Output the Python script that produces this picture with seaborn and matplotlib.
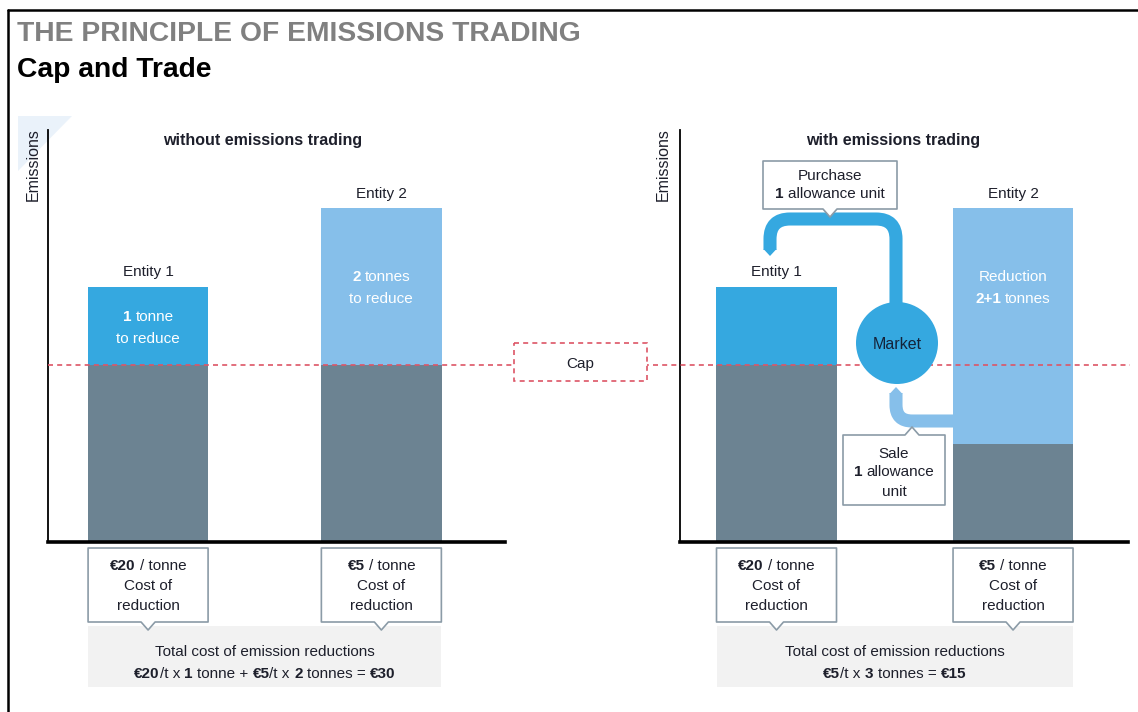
import matplotlib
matplotlib.use('Agg')
import matplotlib.pyplot as plt
import matplotlib.transforms as mtransforms
from matplotlib.path import Path
from matplotlib.patches import PathPatch, Polygon, Rectangle, Circle
import numpy as np
import pandas as pd
import seaborn as sns

# data (tonnes of emissions)
entities = ['Entity 1', 'Entity 2']
cap = 2.25
emissions = [3.25, 4.25]
kept_without_trading = [2.25, 2.25]
kept_with_trading = [2.25, 1.25]
cost_labels = ['**€20** / tonne', '**€5** / tonne']
bar_text_without = [['**1** tonne', 'to reduce'], ['**2** tonnes', 'to reduce']]
total_without = ['Total cost of emission reductions',
                 '**€20**/t x **1** tonne + **€5**/t x **2** tonnes = **€30**']
total_with = ['Total cost of emission reductions',
              '**€5**/t x **3** tonnes = **€15**']

GREY = '#6c8392'
BLUE = '#35a8e0'
LIGHT = '#86bfea'
RED = '#dd5566'
EDGE = '#8b9ba7'
TXT = '#1d1f2b'
FONT = ['Liberation Sans', 'DejaVu Sans']
FS = 11

W, H = 1138, 712
sns.set_style('white')
fig = plt.figure(figsize=(W / 100, H / 100), dpi=100)


def px_axes(x0, y0, x1, y1, z):
    return fig.add_axes([x0 / W, 1 - y1 / H, (x1 - x0) / W, (y1 - y0) / H], zorder=z)


bg = px_axes(0, 0, W, H, 0)
bg.set_xlim(0, W)
bg.set_ylim(H, 0)
bg.axis('off')

ax_l = px_axes(48, 130, 505, 542, 1)
ax_r = px_axes(680, 130, 1128, 542, 1)

df = pd.DataFrame({'entity': entities, 'total': emissions,
                   'without': kept_without_trading, 'with': kept_with_trading})

for ax, base, width, xl in [(ax_l, 'without', 0.517, (-0.429, 1.53)),
                            (ax_r, 'with', 0.51, (-0.408, 1.486))]:
    sns.barplot(data=df, x='entity', y='total', hue='entity', palette=[BLUE, LIGHT],
                width=width, saturation=1, linewidth=0, errorbar=None, legend=False, ax=ax)
    sns.barplot(data=df, x='entity', y=base, color=GREY, width=width, saturation=1,
                linewidth=0, errorbar=None, ax=ax)
    ax.set_xlim(*xl)
    ax.set_ylim(0, 5.25)
    ax.set_xticks([])
    ax.set_yticks([])
    ax.set_xlabel('')
    ax.set_ylabel('')
    ax.patch.set_visible(False)
    for s in ['top', 'right']:
        ax.spines[s].set_visible(False)
    ax.spines['left'].set_linewidth(1.3)
    ax.spines['left'].set_color('black')
    ax.spines['bottom'].set_linewidth(2.6)
    ax.spines['bottom'].set_color('black')

ov = px_axes(0, 0, W, H, 5)
ov.set_xlim(0, W)
ov.set_ylim(H, 0)
ov.axis('off')
ov.patch.set_visible(False)

renderer = fig.canvas.get_renderer()


def to_px(ax, x, y):
    dx, dy = ax.transData.transform((x, y))
    return dx, H - dy


def text_w(s, size, bold):
    t = ov.text(0, 0, s, fontsize=size, family=FONT, fontweight='bold' if bold else 'normal')
    w = t.get_window_extent(renderer).width
    t.remove()
    return w


def rich(x, y, s, size=FS, color=TXT, z=8):
    items = []
    gap = False
    for i, seg in enumerate(s.split('**')):
        if seg == '':
            continue
        items.append((seg.strip(), i % 2 == 1, gap or seg[0] == ' '))
        gap = seg[-1] == ' '
    space = text_w('a a', size, False) - text_w('aa', size, False)
    objs, total = [], 0
    for k, (txt, bold, g) in enumerate(items):
        o = ov.text(0, y, txt, fontsize=size, family=FONT, color=color,
                    fontweight='bold' if bold else 'normal', ha='left',
                    va='center_baseline', zorder=z)
        w = o.get_window_extent(renderer).width
        off = space if (g and k > 0) else 0
        objs.append((o, off, w))
        total += off + w
    cur = x - total / 2
    for o, off, w in objs:
        cur += off
        o.set_x(cur)
        cur += w


def callout(x0, y0, x1, y1, tip_x, side='bottom', tw=7, th=8):
    if side == 'bottom':
        pts = [(x0, y0), (x1, y0), (x1, y1), (tip_x + tw, y1), (tip_x, y1 + th),
               (tip_x - tw, y1), (x0, y1)]
    else:
        pts = [(x0, y0), (tip_x - tw, y0), (tip_x, y0 - th), (tip_x + tw, y0),
               (x1, y0), (x1, y1), (x0, y1)]
    ov.add_patch(Polygon(pts, closed=True, fc='white', ec=EDGE, lw=1.2,
                         joinstyle='round', zorder=6))


def pipe(points, r, color, lw=9.4):
    verts, codes = [points[0]], [Path.MOVETO]
    for k in range(1, len(points) - 1):
        p0, p1, p2 = map(np.array, points[k - 1:k + 2])
        a = p1 + (p0 - p1) / np.linalg.norm(p0 - p1) * r
        b = p1 + (p2 - p1) / np.linalg.norm(p2 - p1) * r
        verts += [tuple(a), tuple(p1), tuple(b)]
        codes += [Path.LINETO, Path.CURVE3, Path.CURVE3]
    verts.append(points[-1])
    codes.append(Path.LINETO)
    ov.add_patch(PathPatch(Path(verts, codes), fc='none', ec=color, lw=lw,
                           capstyle='butt', joinstyle='round', zorder=3))


# frame and titles
ov.plot([8, 8], [H, 10], color='black', lw=1.8, zorder=9)
ov.plot([8, W], [10, 10], color='black', lw=1.8, zorder=9)
bg.add_patch(Polygon([(18, 116), (72, 116), (18, 171)], fc='#eaf2fa', ec='none'))
ov.text(17, 34, 'THE PRINCIPLE OF EMISSIONS TRADING', fontsize=20.3, fontweight='bold',
        family='Liberation Sans', color='#808080', va='center')
ov.text(17, 70, 'Cap and Trade', fontsize=20.3, fontweight='bold',
        family='Liberation Sans', color='black', va='center')

ov.text(263, 140, 'without emissions trading', fontsize=FS + 0.5, fontweight='bold',
        family=FONT, color=TXT, ha='center', va='center')
ov.text(893, 140, 'with emissions trading', fontsize=FS + 0.5, fontweight='bold',
        family=FONT, color=TXT, ha='center', va='center')
for x in [33, 663]:
    ov.text(x, 165, 'Emissions', fontsize=FS + 0.5, family=FONT, color=TXT,
            rotation=90, ha='center', va='center')

# cap line across both panels
trans = mtransforms.blended_transform_factory(ov.transData, ax_l.transData)
ov.plot([48, 1130], [cap, cap], transform=trans, color=RED, lw=1.2,
        dashes=(3, 2.5), zorder=1)
cap_y = to_px(ax_l, 0, cap)[1]
ov.add_patch(Rectangle((514, cap_y - 22), 133, 38, fc='white', ec=RED, lw=1.2,
                       ls=(0, (3, 2.5)), zorder=2))
rich(580, cap_y - 3, 'Cap')

# labels on the bars, cost callouts and totals
for ax, totals in [(ax_l, total_without), (ax_r, total_with)]:
    centers = []
    for i, ent in enumerate(entities):
        cx, top = to_px(ax, i, emissions[i])
        centers.append(cx)
        rich(cx, top - 16, ent)
        callout(cx - 60, 548, cx + 60, 622, cx)
        rich(cx, 564, cost_labels[i])
        rich(cx, 584, 'Cost of')
        rich(cx, 604, 'reduction')
    ov.add_patch(Rectangle((centers[0] - 60, 626), centers[1] - centers[0] + 120, 61,
                           fc='#f2f2f2', ec='none', zorder=4))
    mid = (centers[0] + centers[1]) / 2
    rich(mid, 651, totals[0])
    rich(mid, 672, totals[1])

for i in range(2):
    cx, ymid = to_px(ax_l, i, (emissions[i] + cap) / 2)
    rich(cx, ymid - 11, bar_text_without[i][0], color='white')
    rich(cx, ymid + 11, bar_text_without[i][1], color='white')

cx2, ytxt = to_px(ax_r, 1, emissions[1] - 1)
rich(cx2, ytxt - 11, 'Reduction', color='white')
rich(cx2, ytxt + 11, '**2+1** tonnes', color='white')

# market and allowance flows
pipe([(770, 250), (770, 219), (896, 219), (896, 306)], 20, BLUE)
ov.add_patch(Polygon([(763.5, 249), (776.5, 249), (770, 256)], fc=BLUE, ec='none', zorder=3))
pipe([(896, 393), (896, 421), (958, 421)], 16, LIGHT)
ov.add_patch(Polygon([(889.5, 394), (902.5, 394), (896, 387)], fc=LIGHT, ec='none', zorder=3))
ov.add_patch(Circle((897, 343), 41, fc=BLUE, ec='none', zorder=4))
rich(897, 343, 'Market', size=FS + 0.5, color='#14233a')

callout(763, 161, 897, 209, 830, 'bottom')
rich(830, 175, 'Purchase')
rich(830, 193, '**1** allowance unit')
callout(843, 435, 945, 505, 912, 'top')
rich(894, 453, 'Sale')
rich(894, 471, '**1** allowance')
rich(894, 490, 'unit')

fig.savefig('out.png', dpi=100)
